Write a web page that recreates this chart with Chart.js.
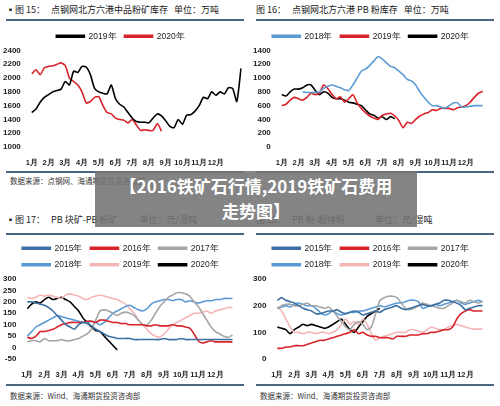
<!DOCTYPE html>
<html><head><meta charset="utf-8">
<script src="https://cdn.jsdelivr.net/npm/chart.js@4"></script>
<style>
body{margin:0;width:500px;height:406px;background:#fff;position:relative;overflow:hidden;font-family:"Noto Sans CJK SC",sans-serif;}
.p{position:absolute;width:250px;height:203px;}
.h{position:absolute;left:6px;top:3px;font-size:9px;color:#222;white-space:nowrap;}
.u{position:absolute;left:6px;right:6px;height:2px;background:#4a6680;}
.s{position:absolute;left:10px;font-size:7.5px;color:#333;}
.c{position:absolute;left:0;}
#ov{position:absolute;left:95px;top:171px;width:322px;height:54px;background:rgba(115,115,115,0.88);color:#fff;font-weight:bold;font-size:17px;text-align:center;line-height:25px;padding-top:2px;}
</style></head><body>
<div class="p" style="left:0;top:0"><div class="h">▪图 15：&nbsp;&nbsp;&nbsp;点钢网北方六港中品粉矿库存&nbsp;&nbsp;&nbsp;单位：万吨</div><div class="u" style="top:19px"></div><div class="c" style="top:24px;width:245px;height:146px"><canvas id="c1"></canvas></div><div class="u" style="top:171px"></div><div class="s" style="top:175px">数据来源：点钢网、海通期货投资咨询部</div></div>
<div class="p" style="left:250px;top:0"><div class="h">图 16：&nbsp;&nbsp;&nbsp;点钢网北方六港 PB 粉库存&nbsp;&nbsp;&nbsp;单位：万吨</div><div class="u" style="top:19px"></div><div class="c" style="top:24px;width:245px;height:146px"><canvas id="c2"></canvas></div><div class="u" style="top:171px"></div></div>
<div class="p" style="left:0;top:203px"><div class="h" style="top:10px">▪图 17：&nbsp;&nbsp;&nbsp;PB 块矿-PB 粉矿&nbsp;&nbsp;&nbsp;&nbsp;&nbsp;&nbsp;&nbsp;&nbsp;&nbsp;&nbsp;&nbsp;单位：元/湿吨</div><div class="u" style="top:30px"></div><div class="c" style="top:33px;width:245px;height:146px"><canvas id="c3"></canvas></div><div class="u" style="top:181px"></div><div class="s" style="top:187px">数据来源：Wind、海通期货投资咨询部</div></div>
<div class="p" style="left:250px;top:203px"><div class="h" style="top:10px">图 18：&nbsp;&nbsp;&nbsp;PB 粉-超特粉&nbsp;&nbsp;&nbsp;&nbsp;&nbsp;&nbsp;&nbsp;&nbsp;&nbsp;&nbsp;&nbsp;&nbsp;&nbsp;&nbsp;&nbsp;单位：元/湿吨</div><div class="u" style="top:30px"></div><div class="c" style="top:33px;width:245px;height:146px"><canvas id="c4"></canvas></div><div class="u" style="top:181px"></div><div class="s" style="top:187px">数据来源：Wind、海通期货投资咨询部</div></div>
<div id="ov">【2016铁矿石行情,2019铁矿石费用<br>走势图】</div>
<script>
const months=["1月","2月","3月","4月","5月","6月","7月","8月","9月","10月","11月","12月"];
const weeks=Array.from({length:51},(_,i)=>i%4===0&&i/4<12?months[i/4]:"");
// chart 15
const c1_2019=[1500,1550,1650,1720,1760,1800,1820,1840,1950,1900,2100,2080,2170,2160,2050,1850,1800,1780,1770,1900,1700,1620,1580,1500,1420,1370,1360,1360,1350,1420,1480,1450,1380,1300,1280,1400,1330,1460,1470,1520,1600,1720,1700,1800,1750,1800,1770,1860,1850,1660,2140];
const c1_2020=[2060,2120,2050,2150,2170,2180,2200,2220,2180,2000,1950,1900,1800,1640,1660,1720,1730,1600,1500,1480,1420,1400,1390,1350,1400,1320,1240,1250,1240,1240,1340,1230];
// chart 16
const c2_2018=[null,null,null,null,null,800,790,790,790,800,850,880,900,880,860,830,820,900,1000,1100,1130,1180,1250,1310,1280,1220,1170,1150,1100,1050,980,960,900,800,720,650,600,600,580,560,600,640,640,580,580,590,600,600,600];
const c2_2019=[600,620,680,720,700,680,720,780,760,780,900,850,760,700,730,650,700,760,640,560,500,450,420,400,460,480,490,450,380,280,360,340,400,450,480,500,540,530,560,560,560,540,570,580,600,650,720,780,810];
const c2_2020=[760,740,800,840,840,860,900,900,820,760,800,780,720,700,700,680,650,640,620,600,540,480,460,420,440,400,440,410];
// chart 17
const c3_2015=[200,200,195,190,185,175,160,140,120,100,90,80,100,110,105,95,80,70,60,50,45,40,40,40,40,35,35,35,35,35,35,35,40,35,35,35,40,35,35,35,35,35,35,35,35,35,35,35,35];
const c3_2016=[45,40,50,70,70,75,80,90,100,105,110,110,110,110,115,115,110,120,120,115,110,110,105,105,100,100,100,100,95,95,100,95,95,95,100,95,95,90,85,60,30,20,25,30,25,25,25,25,25];
const c3_2017=[25,30,30,25,40,30,30,30,35,30,30,35,40,50,60,80,120,160,165,160,150,140,150,155,150,140,120,100,100,120,150,180,200,220,230,240,240,235,225,200,180,150,120,90,70,60,50,45,55];
const c3_2018=[50,70,90,100,110,120,130,140,135,130,125,120,115,110,110,115,110,100,110,130,150,160,170,180,185,175,165,160,170,190,200,205,210,210,205,210,210,200,205,200,195,200,205,205,210,210,215,215,215];
const c3_2019=[220,215,220,230,225,230,225,220,215,230,235,230,225,215,210,220,225,230,225,220,215,210,200,190,170,150,120,100,80,60,50,45,60,80,100,110,120,130,140,150,150,155,160,150,160,165,170,175,175];
const c3_2020=[170,190,200,195,210,220,210,215,220,210,200,180,160,130,110,90,75,70,50,30,10,-10];
// chart 18
const c4_2015=[220,230,220,215,210,200,190,185,180,170,170,175,180,180,185,175,170,175,180,175,165,170,175,180,175,185,190,195,200,190,185,190,195,200,205,200,200,205,210,220,220,215,210,200,185,190,195,200,200];
const c4_2016=[40,40,45,45,50,50,50,55,60,65,70,70,75,80,85,90,95,100,110,95,100,90,85,85,80,80,80,75,85,85,85,90,90,90,95,95,100,100,105,110,110,120,150,170,180,185,180,180,180];
const c4_2017=[190,200,205,205,200,200,205,210,200,200,195,190,195,180,160,140,120,110,130,140,130,110,120,170,220,230,235,235,230,210,190,185,190,200,210,205,200,195,190,190,200,210,220,215,210,220,215,210,215];
const c4_2018=[190,195,200,195,205,210,205,200,200,190,175,165,170,180,170,165,170,175,175,180,180,185,190,195,200,195,200,205,210,210,215,220,220,215,190,195,200,205,200,205,210,215,220,210,205,210,215,220,215];
const c4_2019=[195,180,150,120,100,100,95,100,100,95,100,100,95,100,110,130,150,130,140,130,150,130,95,70,80,85,90,95,100,100,100,110,110,105,100,110,120,115,110,110,120,125,130,125,120,115,112,112,112];
const c4_2020=[120,115,110,95,110,120,130,125,130,125,120,115,120,130,140,150,130,110,100,120,140,160,170,180,190];
const C15="#3d6fa3",C16="#d8232a",C17="#a6a6a6",C18="#5b9bd5",C19="#f4b6b6",C20="#000";
function ds(l,d,c){return {label:l,data:d,borderColor:c,backgroundColor:c,borderWidth:1.6,pointRadius:0,tension:0.2,spanGaps:false};}
function mk(id,sets,min,max,step){
 new Chart(document.getElementById(id),{type:'line',data:{labels:weeks,datasets:sets},
 options:{responsive:true,maintainAspectRatio:false,animation:false,
  layout:{padding:{right:4}},
  plugins:{legend:{labels:{boxWidth:28,boxHeight:2,font:{size:8.5},color:'#222',padding:8}},tooltip:{enabled:false}},
  scales:{x:{grid:{display:false},border:{display:false},ticks:{autoSkip:false,maxRotation:0,font:{size:7.5,weight:'bold'},color:'#222',callback:(v,i)=>weeks[i]}},
   y:{min:min,max:max,grid:{display:false},border:{display:false},ticks:{autoSkip:false,stepSize:step,font:{size:8,weight:'bold'},color:'#222',callback:v=>String(v)}}}}});
}
mk('c1',[ds('2019年',c1_2019,C20),ds('2020年',c1_2020,C16)],1000,2400,200);
mk('c2',[ds('2018年',c2_2018,C18),ds('2019年',c2_2019,C16),ds('2020年',c2_2020,C20)],0,1400,200);
mk('c3',[ds('2015年',c3_2015,C15),ds('2016年',c3_2016,C16),ds('2017年',c3_2017,C17),ds('2018年',c3_2018,C18),ds('2019年',c3_2019,C19),ds('2020年',c3_2020,C20)],-50,300,50);
mk('c4',[ds('2015年',c4_2015,C15),ds('2016年',c4_2016,C16),ds('2017年',c4_2017,C17),ds('2018年',c4_2018,C18),ds('2019年',c4_2019,C19),ds('2020年',c4_2020,C20)],0,300,100);
</script></body></html>
